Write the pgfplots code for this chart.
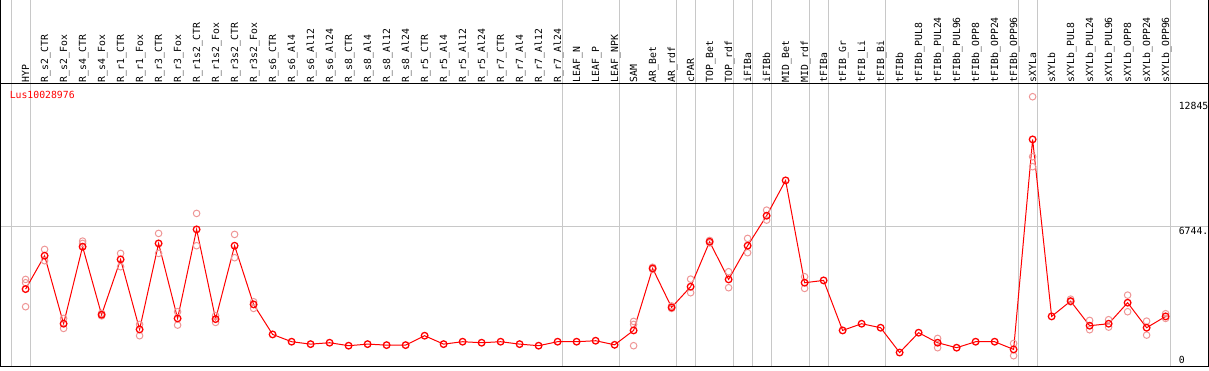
\documentclass[border=0pt]{standalone}
\usepackage{fontspec}
\setmonofont{DejaVu Sans Mono}
\usepackage{pgfplots}
\pgfplotsset{compat=1.18}
\definecolor{gridgray}{RGB}{200,200,200}
\definecolor{reppink}{RGB}{238,150,150}
\definecolor{labred}{RGB}{255,0,0}
\newcommand{\lf}{\ttfamily\fontsize{9.8}{10}\selectfont}
\begin{document}
\begin{tikzpicture}[x=1pt,y=1pt]
\path[use as bounding box] (0,0) rectangle (1209,370);
\begin{axis}[
  at={(0.5,1.5)}, anchor=south west, scale only axis,
  width=1208pt, height=368pt,
  xmin=-1.342, xmax=62.237, ymin=-58, ymax=17803,
  axis line style={black, line width=1pt},
  xtick={-0.76,0.24,28.24,31.24,34.24,35.24,37.24,38.24,39.24,41.24,42.24,45.24,52.24,53.24,60.24},
  xticklabels={}, xmajorgrids,
  extra x ticks={0,...,60},
  extra x tick labels={HYP,R\_s2\_CTR,R\_s2\_Fox,R\_s4\_CTR,R\_s4\_Fox,R\_r1\_CTR,R\_r1\_Fox,R\_r3\_CTR,R\_r3\_Fox,R\_r1s2\_CTR,R\_r1s2\_Fox,R\_r3s2\_CTR,R\_r3s2\_Fox,R\_s6\_CTR,R\_s6\_Al4,R\_s6\_Al12,R\_s6\_Al24,R\_s8\_CTR,R\_s8\_Al4,R\_s8\_Al12,R\_s8\_Al24,R\_r5\_CTR,R\_r5\_Al4,R\_r5\_Al12,R\_r5\_Al24,R\_r7\_CTR,R\_r7\_Al4,R\_r7\_Al12,R\_r7\_Al24,LEAF\_N,LEAF\_P,LEAF\_NPK,SAM,AR\_Bet,AR\_rdf,cPAR,TOP\_Bet,TOP\_rdf,iFIBa,iFIBb,MID\_Bet,MID\_rdf,tFIBa,tFIB\_Gr,tFIB\_Li,tFIB\_Bi,tFIBb,tFIBb\_PUL8,tFIBb\_PUL24,tFIBb\_PUL96,tFIBb\_OPP8,tFIBb\_OPP24,tFIBb\_OPP96,sXYLa,sXYLb,sXYLb\_PUL8,sXYLb\_PUL24,sXYLb\_PUL96,sXYLb\_OPP8,sXYLb\_OPP24,sXYLb\_OPP96},
  extra x tick style={grid=none},
  xticklabel shift=-283.5pt,
  xticklabel style={xshift=1.4pt, rotate=90, anchor=mid west, inner sep=1.2pt, font=\lf},
  ytick={6744}, yticklabels={6744.}, ymajorgrids,
  grid style={gridgray, line width=1pt},
  major tick length=0pt,
  yticklabel pos=right,
  yticklabel style={anchor=north west, xshift=-29.5pt, yshift=-0.7pt, inner sep=0pt, font=\lf},
  extra y ticks={12845}, extra y tick labels={12845}, extra y tick style={grid=none},
  title={Lus10028976},
  title style={at={(0,1)}, anchor=north west, xshift=9.5pt, yshift=-98.2pt, inner sep=0pt, text=labred, font=\lf},
]
\draw[black, line width=1pt] (rel axis cs:0,0.77038) -- (rel axis cs:1,0.77038);
\addplot[only marks, mark=o, mark size=3.3pt, draw=reppink, mark options={line width=1pt}] coordinates {
(0,4189) (0,4028) (0,2864)
(1,5645) (1,5096)
(2,2296) (2,1810)
(3,6048) (3,5936)
(4,2540) (4,2420)
(5,5451) (5,4805)
(6,2005) (6,1456)
(7,6421) (7,5451)
(8,2621) (8,1971)
(9,7392) (9,5824)
(10,2102) (10,2430)
(11,6373) (11,5242)
(12,3106) (12,2781)
(32,2005) (32,2150) (32,971)
(33,4780) (33,4680)
(34,2900) (34,2780)
(35,4203) (35,3543)
(36,6080) (36,5960)
(37,4562) (37,3786)
(38,6179) (38,5485)
(39,7552) (39,7067)
(41,4320) (41,3752)
(48,1325) (48,874)
(52,1082) (52,485)
(53,13056) (53,10144) (53,9659)
(55,3232) (55,3100)
(56,2199) (56,1747)
(57,2233) (57,1874)
(58,3427) (58,2621)
(59,2165) (59,1485)
(60,2524) (60,2296)
};
\addplot[labred, line width=1pt, mark=o, mark size=3.3pt, mark options={line width=1.3pt}] coordinates {
(0,3718) (1,5339) (2,2038) (3,5776) (4,2475) (5,5159) (6,1762) (7,5936) (8,2296) (9,6616)
(10,2262) (11,5824) (12,2975) (13,1519) (14,1165) (15,1048) (16,1116) (17,971) (18,1048) (19,1000)
(20,1000) (21,1456) (22,1048) (23,1165) (24,1116) (25,1165) (26,1048) (27,971) (28,1165) (29,1165)
(30,1213) (31,1015) (32,1713) (33,4723) (34,2830) (35,3834) (36,6018) (37,4189) (38,5824) (39,7280)
(40,8994) (41,4028) (42,4140) (43,1713) (44,2038) (45,1844) (46,640) (47,1602) (48,1116) (49,874)
(50,1165) (51,1165) (52,791) (53,10984) (54,2393) (55,3135) (56,1941) (57,2038) (58,3058) (59,1844)
(60,2393)
};
\node[anchor=south west, inner sep=0pt, font=\lf] at (rel axis cs:1,0) [xshift=-29.5pt, yshift=3.3pt] {0};
\end{axis}
\end{tikzpicture}
\end{document}
